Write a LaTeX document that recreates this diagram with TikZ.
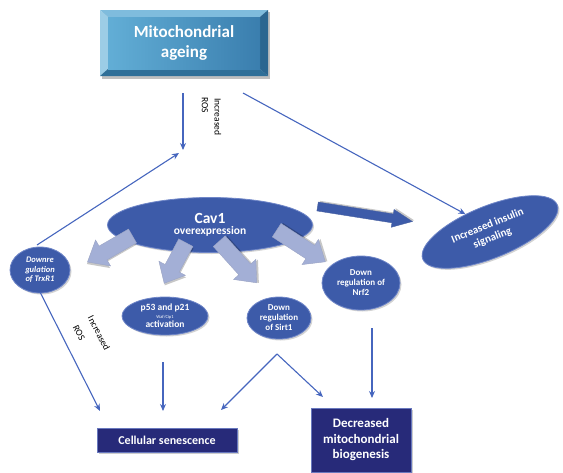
\documentclass[tikz,border=0pt]{standalone}
\usepackage{fontspec}
\setmainfont{Carlito}
\usetikzlibrary{shapes.geometric,arrows.meta,shadows}
\definecolor{ellblue}{HTML}{3D5BA9}
\definecolor{ellrim}{HTML}{6F86C8}
\definecolor{conn}{HTML}{4666BE}
\definecolor{blockl}{HTML}{A3AFD6}
\definecolor{navy}{HTML}{272A79}
\definecolor{navyrim}{HTML}{6878BE}
\definecolor{faceA}{HTML}{62AED6}
\definecolor{faceB}{HTML}{3A7EAE}
\definecolor{bevL}{HTML}{9CCDE6}
\definecolor{bevT}{HTML}{7FBCDD}
\definecolor{bevR}{HTML}{2B6690}
\definecolor{bevB}{HTML}{2F6F98}
\tikzset{
  ovalnode/.style={ellipse, fill=ellblue, draw=ellrim, line width=0.8pt, text=white,
    inner sep=0pt, align=center, drop shadow={opacity=0.35, shadow xshift=1.5pt, shadow yshift=-1.5pt}},
  conn/.style={draw=conn, line width=1.1pt, -{Stealth[length=7pt,width=6pt]}},
  navybox/.style={rectangle, fill=navy, draw=navyrim, line width=1pt, text=white,
    align=center, font=\bfseries, drop shadow={opacity=0.4, shadow xshift=2pt, shadow yshift=-2pt}},
  rostext/.style={font=\fontsize{9.5}{10.5}\selectfont, inner sep=0pt},
  % block arrow: #1 length, #2 shaft half-width, #3 head half-width, #4 head length, #5 fill
  pics/barrow/.style n args={5}{code={
    \fill[black, opacity=0.22, shift={(1.5pt,1.5pt)}]
      (-#1/2,-#2) -- (#1/2-#4,-#2) -- (#1/2-#4,-#3) -- (#1/2,0) -- (#1/2-#4,#3)
      -- (#1/2-#4,#2) -- (-#1/2,#2) -- cycle;
    \filldraw[fill=#5, draw=#5!80!gray, line width=0.4pt]
      (-#1/2,-#2) -- (#1/2-#4,-#2) -- (#1/2-#4,-#3) -- (#1/2,0) -- (#1/2-#4,#3)
      -- (#1/2-#4,#2) -- (-#1/2,#2) -- cycle;
  }}
}
\begin{document}
\begin{tikzpicture}[x=1pt,y=-1pt]
\useasboundingbox (0,0) rectangle (563,472);

% --- top bevelled box
\fill[black,opacity=0.25] (102,12) rectangle (270,79);
\fill[bevT] (100,10) -- (268,10) -- (260,17) -- (108,17) -- cycle;
\fill[bevL] (100,10) -- (108,17) -- (108,69) -- (100,76) -- cycle;
\fill[bevR] (268,10) -- (268,76) -- (260,69) -- (260,17) -- cycle;
\fill[bevB] (100,76) -- (108,69) -- (260,69) -- (268,76) -- cycle;
\node[rectangle, minimum width=152pt, minimum height=52pt, inner sep=0pt,
  left color=faceA, right color=faceB, text=white, align=center,
  font=\bfseries\fontsize{17}{20}\selectfont] (mito) at (184,43) {Mitochondrial\\ageing};

% --- coordinates for free ends
\coordinate (rosA) at (183,93);
\coordinate (rosB) at (183,150);
\coordinate (insA) at (243,93);
\coordinate (trxend) at (179,153);

% --- Increased ROS (top)
\draw[conn] (rosA) -- (rosB);
\node[rostext, rotate=-90] (roslbl1a) at (218,117) {Increased};
\node[rostext, rotate=-90] (roslbl1b) at (205,105) {ROS};

% --- Cav1
\node[ovalnode, minimum width=205pt, minimum height=55pt, font=\bfseries] (cav) at (210,225)
  {{\fontsize{15.5}{17}\selectfont Cav1}\\[-1pt]{\fontsize{11.5}{13}\selectfont overexpression}};

% --- Increased insulin signaling
\node[ovalnode, minimum width=145pt, minimum height=52pt, rotate=22,
  font=\bfseries\fontsize{11}{13}\selectfont] (ins) at (490,232) {Increased insulin\\signaling};

% --- small ellipses
\node[ovalnode, minimum width=60pt, minimum height=46pt,
  font=\bfseries\itshape\fontsize{8.5}{9.5}\selectfont] (trx) at (40,270) {Downre\\gulation\\of TrxR1};
\node[ovalnode, minimum width=86pt, minimum height=38pt,
  font=\bfseries\fontsize{9.5}{10.5}\selectfont] (p53) at (165,316)
  {p53 and p21\\[-3pt]{\fontsize{4.5}{5}\selectfont\mdseries Waf/Cip1}\\[-1pt]activation};
\node[ovalnode, minimum width=64pt, minimum height=42pt,
  font=\bfseries\fontsize{9}{10}\selectfont] (sirt) at (279,318) {Down\\regulation\\of Sirt1};
\node[ovalnode, minimum width=78pt, minimum height=54pt,
  font=\bfseries\fontsize{9}{10}\selectfont] (nrf) at (361,283) {Down\\regulation of\\Nrf2};

% --- block arrows from Cav1
\pic[rotate=210] at (110,249) {barrow={52pt}{8pt}{15pt}{18pt}{blockl}};
\pic[rotate=242] at (175,263) {barrow={46pt}{8pt}{15pt}{17pt}{blockl}};
\pic[rotate=-48] at (238,262) {barrow={56pt}{8pt}{15pt}{18pt}{blockl}};
\pic[rotate=-33] at (301,246) {barrow={58pt}{8pt}{15pt}{18pt}{blockl}};
\pic[rotate=-9] at (365,214) {barrow={96pt}{4.5pt}{9pt}{20pt}{ellblue}};

% --- bottom boxes
\node[navybox, minimum width=140pt, minimum height=24pt,
  font=\bfseries\fontsize{12}{14}\selectfont] (sen) at (167,440) {Cellular senescence};
\node[navybox, minimum width=100pt, minimum height=64pt, inner sep=2pt,
  font=\bfseries\fontsize{13}{15.5}\selectfont] (dec) at (361,440) {Decreased\\mitochondrial\\biogenesis};

% --- connectors
\coordinate (trxA) at (37,245);
\draw[conn] (trxA) -- (trxend);
\draw[conn] (insA) -- (ins.122);

\coordinate (trxB) at (40,292);
\coordinate (senL) at (100,411);
\draw[conn] (trxB) -- (senL);
\node[rostext, rotate=-63] (roslbl2a) at (99,333) {Increased};
\node[rostext, rotate=-63] (roslbl2b) at (79,333) {ROS};

\coordinate (p53B) at (163,362);
\coordinate (senM) at (163,411);
\draw[conn] (p53B) -- (senM);

\coordinate (apex) at (277,354);
\coordinate (senR) at (221,410);
\coordinate (decL) at (323,397);
\draw[conn] (apex) -- (senR);
\draw[conn] (apex) -- (decL);

\coordinate (nrfB) at (372,328);
\coordinate (decT) at (372,398);
\draw[conn] (nrfB) -- (decT);
\end{tikzpicture}
\end{document}
